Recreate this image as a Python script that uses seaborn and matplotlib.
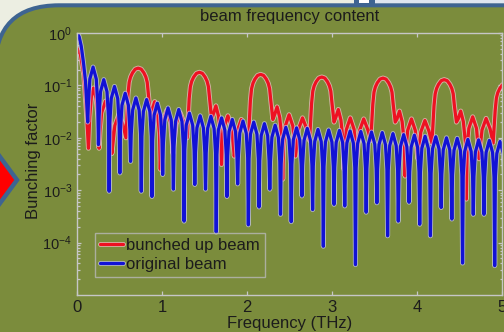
import matplotlib
matplotlib.use("Agg")
import matplotlib.pyplot as plt
import matplotlib.patheffects as pe
from matplotlib.patches import FancyBboxPatch, Polygon, Rectangle
from matplotlib.ticker import LogLocator, NullFormatter
import numpy as np
import pandas as pd
import seaborn as sns

# ---------------------------------------------------------------------------
# Spectrum data (frequency in THz, bunching factor given as log10)
# ---------------------------------------------------------------------------
blue_freq = [
    0.000, 0.025, 0.050, 0.075, 0.100,
    0.126, 0.134, 0.151, 0.189, 0.227, 0.244,
    0.252, 0.260, 0.277, 0.315, 0.353, 0.370,
    0.378, 0.386, 0.403, 0.441, 0.479, 0.496,
    0.504, 0.512, 0.529, 0.567, 0.605, 0.622,
    0.630, 0.638, 0.655, 0.693, 0.731, 0.748,
    0.756, 0.764, 0.781, 0.819, 0.857, 0.874,
    0.882, 0.890, 0.907, 0.945, 0.983, 1.000,
    1.008, 1.016, 1.033, 1.071, 1.109, 1.126,
    1.134, 1.142, 1.159, 1.197, 1.235, 1.252,
    1.260, 1.268, 1.285, 1.323, 1.361, 1.378,
    1.386, 1.394, 1.411, 1.449, 1.487, 1.504,
    1.512, 1.520, 1.537, 1.575, 1.613, 1.630,
    1.638, 1.646, 1.663, 1.701, 1.739, 1.756,
    1.764, 1.772, 1.789, 1.827, 1.865, 1.882,
    1.890, 1.898, 1.915, 1.953, 1.991, 2.008,
    2.016, 2.024, 2.041, 2.079, 2.117, 2.134,
    2.142, 2.150, 2.167, 2.205, 2.243, 2.260,
    2.268, 2.276, 2.293, 2.331, 2.369, 2.386,
    2.394, 2.402, 2.419, 2.457, 2.495, 2.512,
    2.520, 2.528, 2.545, 2.583, 2.621, 2.638,
    2.646, 2.654, 2.671, 2.709, 2.747, 2.764,
    2.772, 2.780, 2.797, 2.835, 2.873, 2.890,
    2.898, 2.906, 2.923, 2.961, 2.999, 3.016,
    3.024, 3.032, 3.049, 3.087, 3.125, 3.142,
    3.150, 3.158, 3.175, 3.213, 3.251, 3.268,
    3.276, 3.284, 3.301, 3.339, 3.377, 3.394,
    3.402, 3.410, 3.427, 3.465, 3.503, 3.520,
    3.528, 3.536, 3.553, 3.591, 3.629, 3.646,
    3.654, 3.662, 3.679, 3.717, 3.755, 3.772,
    3.780, 3.788, 3.805, 3.843, 3.881, 3.898,
    3.906, 3.914, 3.931, 3.969, 4.007, 4.024,
    4.032, 4.040, 4.057, 4.095, 4.133, 4.150,
    4.158, 4.166, 4.183, 4.221, 4.259, 4.276,
    4.284, 4.292, 4.309, 4.347, 4.385, 4.402,
    4.410, 4.418, 4.435, 4.473, 4.511, 4.528,
    4.536, 4.544, 4.561, 4.599, 4.637, 4.654,
    4.662, 4.670, 4.687, 4.725, 4.763, 4.780,
    4.788, 4.796, 4.813, 4.851, 4.889, 4.906,
    4.914, 4.922, 4.939, 4.977, 5.015, 5.032,
    5.040,
]
blue_log10 = [
    0.00, -0.07, -0.25, -0.55, -0.92,
    -1.70, -1.35, -0.88, -0.65, -0.88, -1.35,
    -2.13, -1.59, -1.12, -0.89, -1.12, -1.59,
    -3.02, -1.72, -1.25, -1.02, -1.25, -1.72,
    -2.67, -1.85, -1.38, -1.15, -1.38, -1.85,
    -2.45, -1.94, -1.47, -1.24, -1.47, -1.94,
    -3.02, -1.97, -1.50, -1.27, -1.50, -1.97,
    -3.12, -2.04, -1.57, -1.34, -1.57, -2.04,
    -2.70, -2.13, -1.66, -1.43, -1.66, -2.13,
    -2.98, -2.16, -1.69, -1.46, -1.69, -2.16,
    -3.59, -2.23, -1.76, -1.53, -1.76, -2.23,
    -2.89, -2.28, -1.81, -1.58, -1.81, -2.28,
    -2.98, -2.29, -1.82, -1.59, -1.82, -2.29,
    -3.80, -2.32, -1.85, -1.62, -1.85, -2.32,
    -3.12, -2.35, -1.88, -1.65, -1.88, -2.35,
    -2.88, -2.38, -1.91, -1.68, -1.91, -2.38,
    -3.66, -2.40, -1.93, -1.70, -1.93, -2.40,
    -3.32, -2.43, -1.96, -1.73, -1.96, -2.43,
    -2.98, -2.46, -1.99, -1.76, -1.99, -2.46,
    -3.46, -2.50, -2.03, -1.80, -2.03, -2.50,
    -3.60, -2.51, -2.04, -1.81, -2.04, -2.51,
    -3.11, -2.52, -2.05, -1.82, -2.05, -2.52,
    -3.37, -2.54, -2.07, -1.84, -2.07, -2.54,
    -4.07, -2.55, -2.08, -1.85, -2.08, -2.55,
    -3.27, -2.56, -2.09, -1.86, -2.09, -2.56,
    -3.30, -2.57, -2.10, -1.87, -2.10, -2.57,
    -4.42, -2.58, -2.11, -1.88, -2.11, -2.58,
    -3.42, -2.59, -2.12, -1.89, -2.12, -2.59,
    -3.24, -2.60, -2.13, -1.90, -2.13, -2.60,
    -3.87, -2.62, -2.15, -1.92, -2.15, -2.62,
    -3.59, -2.64, -2.17, -1.94, -2.17, -2.64,
    -3.23, -2.65, -2.18, -1.95, -2.18, -2.65,
    -3.65, -2.67, -2.20, -1.97, -2.20, -2.67,
    -3.87, -2.68, -2.21, -1.98, -2.21, -2.68,
    -3.33, -2.70, -2.23, -2.00, -2.23, -2.70,
    -3.55, -2.71, -2.24, -2.01, -2.24, -2.71,
    -4.39, -2.73, -2.26, -2.03, -2.26, -2.73,
    -3.46, -2.74, -2.27, -2.04, -2.27, -2.74,
    -3.46, -2.75, -2.28, -2.05, -2.28, -2.75,
    -4.44, -2.77, -2.30, -2.07, -2.30, -2.77,
    -3.50,
]

red_freq = [
    0.000, 0.040, 0.080, 0.110, 0.135,
    0.150, 0.170, 0.194, 0.225, 0.250, 0.260,
    0.270, 0.290, 0.335, 0.380, 0.400, 0.410,
    0.420, 0.445, 0.493, 0.540, 0.576,
    0.600, 0.614, 0.630, 0.653, 0.685, 0.720, 0.755, 0.787, 0.810, 0.826, 0.840, 0.864,
    0.885, 0.914, 0.945, 0.970, 0.980,
    0.990, 1.010, 1.055, 1.100, 1.120, 1.130,
    1.140, 1.165, 1.213, 1.260, 1.296,
    1.320, 1.334, 1.350, 1.373, 1.405, 1.440, 1.475, 1.507, 1.530, 1.546, 1.560, 1.584,
    1.605, 1.634, 1.665, 1.690, 1.700,
    1.710, 1.730, 1.775, 1.820, 1.840, 1.850,
    1.860, 1.885, 1.933, 1.980, 2.016,
    2.040, 2.054, 2.070, 2.093, 2.125, 2.160, 2.195, 2.227, 2.250, 2.266, 2.280, 2.304,
    2.325, 2.354, 2.385, 2.410, 2.420,
    2.430, 2.450, 2.495, 2.540, 2.560, 2.570,
    2.580, 2.605, 2.653, 2.700, 2.736,
    2.760, 2.774, 2.790, 2.813, 2.845, 2.880, 2.915, 2.947, 2.970, 2.986, 3.000, 3.024,
    3.045, 3.074, 3.105, 3.130, 3.140,
    3.150, 3.170, 3.215, 3.260, 3.280, 3.290,
    3.300, 3.325, 3.373, 3.420, 3.456,
    3.480, 3.494, 3.510, 3.533, 3.565, 3.600, 3.635, 3.667, 3.690, 3.706, 3.720, 3.744,
    3.765, 3.794, 3.825, 3.850, 3.860,
    3.870, 3.890, 3.935, 3.980, 4.000, 4.010,
    4.020, 4.045, 4.093, 4.140, 4.176,
    4.200, 4.214, 4.230, 4.253, 4.285, 4.320, 4.355, 4.387, 4.410, 4.426, 4.440, 4.464,
    4.485, 4.514, 4.545, 4.570, 4.580,
    4.590, 4.610, 4.655, 4.700, 4.720, 4.730,
    4.740, 4.765, 4.813, 4.860, 4.896,
    4.920, 4.934, 4.950, 4.973, 5.005, 5.040,
]
red_log10 = [
    -0.29, -0.41, -0.80, -1.49, -2.20,
    -1.60, -1.20, -1.05, -1.25, -1.65, -2.20,
    -1.90, -1.52, -1.30, -1.52, -1.90, -2.30,
    -2.15, -1.77, -1.55, -1.75, -2.00,
    -1.17, -0.94, -0.84, -0.76, -0.69, -0.67, -0.69, -0.76, -0.84, -0.94, -1.17, -1.60,
    -1.46, -1.31, -1.51, -1.91, -2.60,
    -2.08, -1.70, -1.48, -1.70, -2.08, -2.30,
    -2.12, -1.74, -1.52, -1.72, -2.00,
    -1.25, -1.02, -0.92, -0.84, -0.77, -0.75, -0.77, -0.84, -0.92, -1.02, -1.25, -1.65,
    -1.54, -1.39, -1.59, -1.99, -2.51,
    -2.18, -1.80, -1.58, -1.80, -2.18, -2.35,
    -2.25, -1.87, -1.65, -1.85, -2.05,
    -1.29, -1.06, -0.96, -0.88, -0.81, -0.79, -0.81, -0.88, -0.96, -1.06, -1.29, -1.65,
    -1.56, -1.41, -1.61, -2.01, -2.79,
    -2.16, -1.78, -1.56, -1.78, -2.16, -2.35,
    -2.22, -1.84, -1.62, -1.82, -2.05,
    -1.34, -1.11, -1.01, -0.93, -0.86, -0.84, -0.86, -0.93, -1.01, -1.11, -1.34, -1.70,
    -1.61, -1.46, -1.66, -2.06, -2.60,
    -2.22, -1.84, -1.62, -1.84, -2.22, -2.40,
    -2.24, -1.86, -1.64, -1.84, -2.05,
    -1.36, -1.13, -1.03, -0.95, -0.88, -0.86, -0.88, -0.95, -1.03, -1.13, -1.36, -1.70,
    -1.64, -1.49, -1.69, -2.09, -2.73,
    -2.24, -1.86, -1.64, -1.86, -2.24, -2.40,
    -2.27, -1.89, -1.67, -1.87, -2.10,
    -1.39, -1.16, -1.06, -0.98, -0.91, -0.89, -0.91, -0.98, -1.06, -1.16, -1.39, -1.70,
    -1.64, -1.49, -1.69, -2.09, -3.17,
    -2.20, -1.82, -1.60, -1.82, -2.20, -2.40,
    -2.23, -1.85, -1.63, -1.83, -2.10,
    -1.47, -1.24, -1.14, -1.06, -0.99, -0.97,
]

series_labels = ["bunched up beam", "original beam"]
x_ticks = [0, 1, 2, 3, 4, 5]
y_tick_exponents = [-4, -3, -2, -1, 0]

# ---------------------------------------------------------------------------
# Style
# ---------------------------------------------------------------------------
sns.set_style("ticks")
plt.rcParams["font.family"] = ["Liberation Sans", "DejaVu Sans"]
plt.rcParams["mathtext.fontset"] = "custom"
plt.rcParams["mathtext.rm"] = "Liberation Sans"
plt.rcParams["mathtext.it"] = "Liberation Sans:italic"
plt.rcParams["mathtext.bf"] = "Liberation Sans:bold"

OLIVE = "#7b8c3c"
FRAME_BLUE = "#3e6491"
AXIS_GREY = "#c6c6c6"
TEXT = "#1c1c1c"
RED = "#ee1122"
BLUE = "#1212d6"

W, H = 504, 332
fig = plt.figure(figsize=(W / 100, H / 100), dpi=100)
fig.patch.set_facecolor("#eceee2")

# slide backdrop drawn in pixel coordinates
deco = fig.add_axes([0, 0, 1, 1])
deco.set_xlim(0, W)
deco.set_ylim(H, 0)
deco.axis("off")
deco.add_patch(FancyBboxPatch((-5, 5.3), 620, 420,
                              boxstyle="round,pad=0,rounding_size=64",
                              facecolor=OLIVE, edgecolor=FRAME_BLUE, linewidth=2.9))
deco.add_patch(Rectangle((375, -2), 140, 5.3, facecolor="#dfe6ef", edgecolor="none"))
deco.add_patch(Rectangle((354, -2), 21, 6, facecolor=FRAME_BLUE, edgecolor="none"))
deco.add_patch(Rectangle((359, -2), 9.5, 5.3, facecolor="white", edgecolor="none"))
deco.add_patch(Polygon([(-5, 150), (17, 180), (-5, 210)], closed=True,
                       facecolor="#ff0000", edgecolor=FRAME_BLUE, linewidth=3.2))

# ---------------------------------------------------------------------------
# Spectrum axes
# ---------------------------------------------------------------------------
ax = fig.add_axes([77 / W, 1 - 295 / H, 425 / W, 262 / H])
ax.set_facecolor("none")

df_red = pd.DataFrame({"freq": red_freq, "b": np.power(10.0, red_log10)})
df_blue = pd.DataFrame({"freq": blue_freq, "b": np.power(10.0, blue_log10)})

lw = 2.3
sns.lineplot(data=df_red, x="freq", y="b", ax=ax, color=RED, linewidth=lw,
             sort=False, estimator=None, label=series_labels[0],
             path_effects=[pe.Stroke(linewidth=lw + 1.3, foreground="#f4c8d0", alpha=0.7),
                           pe.Normal()])
sns.lineplot(data=df_blue, x="freq", y="b", ax=ax, color=BLUE, linewidth=lw,
             sort=False, estimator=None, label=series_labels[1],
             path_effects=[pe.Stroke(linewidth=lw + 1.3, foreground="#c8c8f0", alpha=0.7),
                           pe.Normal()])

ax.set_yscale("log")
ax.set_xlim(0, 5)
ax.set_ylim(1e-5, 1)
ax.set_xticks(x_ticks)
ax.set_yticks([10.0 ** e for e in y_tick_exponents])
ax.yaxis.set_minor_locator(LogLocator(base=10, subs=np.arange(2, 10) * 0.1 * 10, numticks=20))
ax.yaxis.set_minor_formatter(NullFormatter())

for s in ax.spines.values():
    s.set_visible(True)
    s.set_color(AXIS_GREY)
    s.set_linewidth(1.0)

ax.tick_params(which="both", direction="in", top=True, right=True,
               color=AXIS_GREY, labelcolor=TEXT, width=0.9)
ax.tick_params(which="major", length=3.2)
ax.tick_params(which="minor", length=1.8)
ax.tick_params(axis="y", pad=3.5, labelsize=10.5)
ax.tick_params(axis="x", pad=3.5, labelsize=12)

ax.set_title("beam frequency content", fontsize=12, color=TEXT, pad=8.7)
ax.set_xlabel("Frequency (THz)", fontsize=12, color=TEXT, labelpad=1)
ax.set_ylabel("Bunching factor", fontsize=12, color=TEXT)
ax.yaxis.set_label_coords(-0.084, 0.511)

leg = ax.legend(loc="lower left", bbox_to_anchor=((95 - 77) / 425, (295 - 277) / 262),
                borderaxespad=0, fontsize=12, frameon=True, fancybox=False,
                handlelength=1.4, handletextpad=0.15, labelspacing=0.22,
                borderpad=0.3)
leg.get_frame().set_edgecolor("#b8b8b8")
leg.get_frame().set_facecolor("none")
leg.get_frame().set_linewidth(1.0)
for t in leg.get_texts():
    t.set_color(TEXT)

fig.savefig("out.png", dpi=100, facecolor=fig.get_facecolor())
